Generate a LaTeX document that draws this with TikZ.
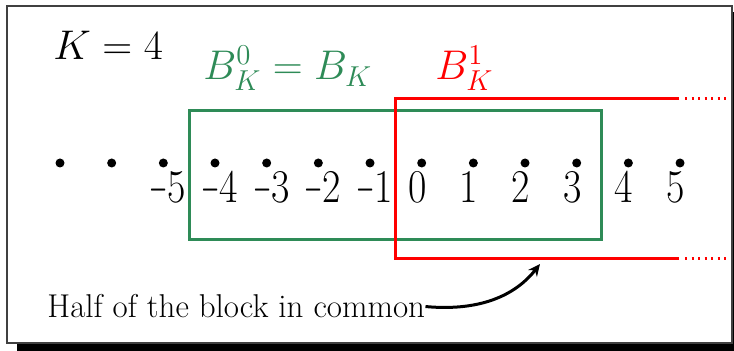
\documentclass[tikz,border=0pt]{standalone}
\usetikzlibrary{arrows.meta}
\definecolor{bgreen}{RGB}{46,139,87}
\begin{document}
\begin{tikzpicture}[x=0.5pt,y=-0.5pt,
  dotnode/.style={circle,fill=black,inner sep=0pt,minimum size=4.5pt},
  numlab/.style={anchor=base west,inner sep=0pt,font=\fontsize{23.5}{28}\selectfont},
  mathlab/.style={anchor=base west,inner sep=0pt,font=\fontsize{20}{24}\selectfont},
  blockline/.style={line width=1.5pt},
  tail/.style={line width=1.5pt,red,dash pattern=on 1pt off 2.25pt}]
\useasboundingbox (0,0) rectangle (734,351);
% frame with shadow
\fill[black] (17,12) rectangle (744,351);
\draw[fill=white,draw=black!75,line width=1pt] (6.5,6.5) rectangle (732,343.5);
% dots
\foreach \i in {0,...,12}{
  \node[dotnode] (d\i) at ({60+51.67*\i},163) {};
}
% labels
\newcommand{\mymin}{\scalebox{0.47}[1]{$-$}}
\newcommand{\mydig}[1]{\scalebox{0.85}[1]{#1}}
\foreach \i/\t in {2/5,3/4,4/3,5/2,6/1}{
  \node[numlab] (n\i) at ([xshift=-7pt]d\i.center |- 0,203) {\mymin\mydig{\t}};
}
\foreach \i/\t in {7/0,8/1,9/2,10/3,11/4,12/5}{
  \node[numlab] (n\i) at ([xshift=-7pt]d\i.center |- 0,203) {\mydig{\t}};
}
% green block
\draw[blockline,bgreen] (189.5,111) rectangle (601.5,240);
% red block
\draw[blockline,red] (679,98.5) -- (395.5,98.5) -- (395.5,259) -- (679,259);
\draw[tail] (685,98.5) -- (730,98.5);
\draw[tail] (685,259) -- (730,259);
% titles
\node[mathlab] (k) at (53,60) {$K=4$};
\node[mathlab,text=bgreen] (b0) at (203,80) {$B_K^0=B_K$};
\node[mathlab,text=red] (b1) at (435,80) {$B_K^1$};
% note
\node[anchor=base west,inner sep=0pt,font=\fontsize{16.5}{20}\selectfont] (txt) at (47,318) {Half of the block in common};
\coordinate (tip) at (540,264);
\draw[line width=1.5pt,-{Stealth[length=6pt,width=5.5pt]}] (txt.east) .. controls (485,312) and (518,292) .. (tip);
\end{tikzpicture}
\end{document}
